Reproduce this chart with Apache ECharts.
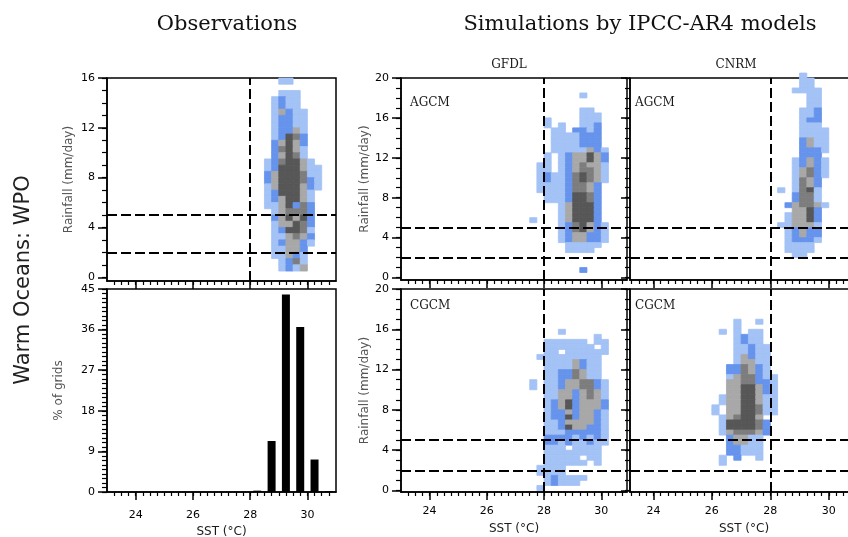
<!DOCTYPE html>
<html>
<head>
<meta charset="utf-8">
<script src="https://cdn.jsdelivr.net/npm/echarts@6/dist/echarts.min.js"></script>
<style>
html, body { margin: 0; padding: 0; background: #fff; }
#main { width: 848px; height: 537px; }
</style>
</head>
<body>
<div id="main"></div>
<script>
/* bin sizes of the 2D histograms */
var sstBin = 0.25, rainBin = 0.5;
// colour levels: 1 light blue .. 5 dark grey
var levelColors = ['', '#a3c2f5', '#6693ec', '#a8a8a8', '#7d7d7d', '#575757'];

// tick labels
var sstMajor = [24, 26, 28, 30];
var rainMajorObs = [0, 4, 8, 12, 16];
var rainMajorModel = [0, 4, 8, 12, 16, 20];
var pctMajor = [0, 9, 18, 27, 36, 45];

// thresholds (dashed lines)
var rainLines = [5, 2];
var sstLine = 28;

// observed % of grids per SST bin
var histSst = [28.25, 28.75, 29.25, 29.75, 30.25, 30.75];
var histPct = [0.3, 11.3, 43.8, 36.6, 7.2, 0.2];

// observations: columns from 28.5 C, rows from 15.5 mm/day downward
var obsSst0 = 28.5, obsRainTop = 15.5;
var obsRows = [
  '..11....', '........', '..111...', '.1211...', '.1211...', '.13211..',
  '.12211..', '.12211..', '.12231..', '.12542..', '.23532..', '.24531..',
  '.23541..', '1245531.', '12555311', '23555411', '23555421', '13555321',
  '1255531.', '1235531.', '1135242.', '.134442.', '.235352.', '.133542.',
  '.125541.', '.113432.', '.123321.', '.11332..', '.11321..', '..1241..',
  '..1213..'
];

// GFDL AGCM: columns from 27.5 C, rows from 18 mm/day
var gfdlASst0 = 27.5, gfdlARainTop = 18;
var gfdlARows = [
  '.......1....', '............', '............', '.......11...', '.......111..',
  '..1....111..', '..1.1..112..', '...11.2212..', '...1111222..', '...1111222..',
  '...1111222..', '...11111321.', '..1.1233532.', '..1.1233532.', '.11.1234331.',
  '.11.1234431.', '.1211245431.', '.1211245431.', '.111124432..', '.111124432..',
  '..11125542..', '..11125542..', '....135552..', '....135552..', '....135552..',
  '1...135552..', '....1245321.', '....1245321.', '....1233221.', '....1233221.',
  '.....11111..', '.....1111...', '............', '............', '............',
  '.......2....'
];

// CNRM AGCM: columns from 28.25 C, rows from 20 mm/day
var cnrmASst0 = 28.25, cnrmARainTop = 20;
var cnrmARows = [
  '...1...', '...11..', '...11..', '..1111.', '....11.', '....11.', '....11.',
  '...112.', '...112.', '...122.', '...111.', '...1111', '...1111', '...2311',
  '...2311', '...2221', '...222.', '..12321', '..12321', '..13421', '..13421',
  '..1432.', '..1432.', '1.1451.', '..2441.', '..2441.', '.234431', '..3352.',
  '.13352.', '.13352.', '113331.', '.12322.', '.12322.', '.12221.', '.1111..',
  '.1111..', '..11...'
];

// GFDL CGCM: columns from 27.5 C, rows from 15.5 mm/day
var gfdlCSst0 = 27.5, gfdlCRainTop = 15.5;
var gfdlCRows = [
  '....1.......', '.........1..', '..111111.11.', '..1111111.1.', '..11.111111.',
  '.111111111..', '..11113211..', '..11113211..', '..11224311..', '..11224311..',
  '1.112334421.', '1.112334421.', '..113323431.', '..113323431.', '..123523332.',
  '..123523332.', '..122323321.', '..122523321.', '..112333321.', '..112533221.',
  '..111222221.', '..222212121.', '..221211211.', '..111.1111..', '..11111111..',
  '..11111.11..', '..111111.1..', '.1111.......', '.1111.......', '..121111....',
  '..12111.....', '.1..........'
];

// CNRM CGCM: columns from 26 C, rows from 16.5 mm/day
var cnrmCSst0 = 26, cnrmCRainTop = 16.5;
var cnrmCRows = [
  '...1..1...', '...1......', '.1.1.11...', '...1211...', '...1211...',
  '...11211..', '...11211..', '...13211..', '...13311..', '..224321..',
  '..224321..', '..1344211.', '..3344221.', '..3355321.', '..3355321.',
  '.13355311.', '.13355311.', '1.3355411.', '1.3355411.', '.134553...',
  '.1555542..', '.1555542..', '.1344432..', '..23311...', '..23311...',
  '..22111...', '..22111...', '.1.2..1...', '.1........'
];

(function () {
  var chart = echarts.init(document.getElementById('main'));
  var font = 'DejaVu Sans';

  function steps(a, b, s) {
    var v = [];
    for (var t = a; t <= b + 1e-9; t += s) v.push(+t.toFixed(2));
    return v;
  }
  var sstMinor = steps(23.25, 30.75, 0.25);

  function cells(rows, sst0, rainTop) {
    var out = [];
    rows.forEach(function (row, j) {
      for (var i = 0; i < row.length; i++) {
        var c = row.charAt(i);
        if (c !== '.') out.push([sst0 + i * sstBin, rainTop - j * rainBin, +c]);
      }
    });
    return out;
  }

  function renderCell(params, api) {
    var x = api.value(0), y = api.value(1);
    var a = api.coord([x, y + rainBin]);
    var b = api.coord([x + sstBin, y]);
    var col = levelColors[api.value(2)];
    return {
      type: 'rect',
      shape: { x: a[0], y: a[1], width: b[0] - a[0], height: b[1] - a[1] },
      style: { fill: col, stroke: col, lineWidth: 0.8 }
    };
  }

  //网格 位置
  var gridPos = [
    { left: 107, top: 78, width: 229, height: 203 },   // obs rainfall
    { left: 107, top: 289, width: 229, height: 203 },  // obs histogram
    { left: 401, top: 78, width: 226, height: 202 },   // GFDL AGCM
    { left: 630, top: 78, width: 228, height: 202 },   // CNRM AGCM
    { left: 401, top: 289, width: 226, height: 203 },  // GFDL CGCM
    { left: 630, top: 289, width: 228, height: 203 }   // CNRM CGCM
  ];
  var grids = gridPos.map(function (p) {
    return Object.assign({ show: true, borderColor: '#000', borderWidth: 1.5,
      backgroundColor: 'transparent', containLabel: false, outerBoundsMode: 'none' }, p);
  });

  var labelStyle = { color: '#000', fontSize: 11, fontFamily: font };
  var black = { color: '#000', width: 1.5 };

  function xPair(g, min, max, withLabels, labelMargin, nameGap) {
    var base = { gridIndex: g, type: 'value', min: min, max: max, position: 'bottom',
      splitLine: { show: false } };
    return [
      Object.assign({}, base, {
        axisLine: { show: true, onZero: false, lineStyle: black },
        axisTick: { show: true, inside: false, length: 8, customValues: sstMajor, lineStyle: black },
        axisLabel: Object.assign({ show: withLabels, customValues: sstMajor, margin: labelMargin }, labelStyle),
        name: withLabels ? 'SST (°C)' : '',
        nameLocation: 'middle',
        nameGap: nameGap,
        nameTextStyle: { color: '#1a1a1a', fontSize: 12, fontFamily: font }
      }),
      Object.assign({}, base, {
        axisLine: { show: false, onZero: false },
        axisTick: { show: true, inside: false, length: 4, customValues: sstMinor, lineStyle: { color: '#000', width: 1.2 } },
        axisLabel: { show: false }
      })
    ];
  }

  function yPair(g, min, max, major, minorStep, withLabels, name, nameGap) {
    var base = { gridIndex: g, type: 'value', min: min, max: max, position: 'left',
      splitLine: { show: false } };
    return [
      Object.assign({}, base, {
        axisLine: { show: true, onZero: false, lineStyle: black },
        axisTick: { show: true, inside: false, length: 9, customValues: major, lineStyle: black },
        axisLabel: Object.assign({ show: withLabels, customValues: major, margin: 12 }, labelStyle),
        name: name,
        nameLocation: 'middle',
        nameRotate: 90,
        nameGap: nameGap,
        nameTextStyle: { color: '#555', fontSize: 12, fontFamily: font }
      }),
      Object.assign({}, base, {
        axisLine: { show: false, onZero: false },
        axisTick: { show: true, inside: false, length: 5, customValues: steps(0, major[major.length - 1], minorStep), lineStyle: { color: '#000', width: 1.2 } },
        axisLabel: { show: false }
      })
    ];
  }

  var xAxes = [].concat(
    xPair(0, 23, 31, false, 14, 30),
    xPair(1, 23, 31, true, 18, 34),
    xPair(2, 23, 30.9, false, 14, 30),
    xPair(3, 23.2, 31, false, 14, 30),
    xPair(4, 23, 30.9, true, 14, 31),
    xPair(5, 23.2, 31, true, 14, 31)
  );
  var yAxes = [].concat(
    yPair(0, -0.3, 16, rainMajorObs, 1, true, 'Rainfall (mm/day)', 32),
    yPair(1, 0, 45, pctMajor, 1, true, '% of grids', 42),
    yPair(2, -0.25, 20, rainMajorModel, 1, true, 'Rainfall (mm/day)', 23),
    yPair(3, -0.25, 20, rainMajorModel, 1, false, '', 0),
    yPair(4, -0.15, 20, rainMajorModel, 1, true, 'Rainfall (mm/day)', 23),
    yPair(5, -0.15, 20, rainMajorModel, 1, false, '', 0)
  );

  function cellSeries(g, rows, sst0, rainTop) {
    return {
      type: 'custom', xAxisIndex: 2 * g, yAxisIndex: 2 * g,
      renderItem: renderCell, encode: { x: 0, y: 1 },
      data: cells(rows, sst0, rainTop), z: 2
    };
  }

  function threshold(g) {
    var lines = rainLines.map(function (r) { return { yAxis: r }; });
    lines.push({ xAxis: sstLine });
    return {
      type: 'line', xAxisIndex: 2 * g, yAxisIndex: 2 * g, data: [], z: 5,
      markLine: {
        silent: true, symbol: ['none', 'none'], label: { show: false },
        lineStyle: { color: '#000', width: 2, type: [10, 4] },
        data: lines
      }
    };
  }

  function label(text, x, y, align) {
    return {
      type: 'text', x: x, y: y,
      style: { text: text, fill: '#1a1a1a', font: '12px "DejaVu Serif"', align: align, verticalAlign: 'middle' }
    };
  }

  var option = {
    animation: false,
    backgroundColor: '#fff',
    textStyle: { fontFamily: font },
    grid: grids,
    xAxis: xAxes,
    yAxis: yAxes,
    series: [
      cellSeries(0, obsRows, obsSst0, obsRainTop),
      cellSeries(2, gfdlARows, gfdlASst0, gfdlARainTop),
      cellSeries(3, cnrmARows, cnrmASst0, cnrmARainTop),
      cellSeries(4, gfdlCRows, gfdlCSst0, gfdlCRainTop),
      cellSeries(5, cnrmCRows, cnrmCSst0, cnrmCRainTop),
      {
        type: 'bar', xAxisIndex: 2, yAxisIndex: 2, barWidth: 8,
        itemStyle: { color: '#000' },
        data: histSst.map(function (s, i) { return [s, histPct[i]]; })
      },
      threshold(0), threshold(2), threshold(3), threshold(4), threshold(5)
    ],
    graphic: [
      { type: 'text', x: 227, y: 25, style: { text: 'Observations', fill: '#111', font: '21px "DejaVu Serif"', align: 'center', verticalAlign: 'middle' } },
      { type: 'text', x: 640, y: 25, style: { text: 'Simulations by IPCC-AR4 models', fill: '#111', font: '21px "DejaVu Serif"', align: 'center', verticalAlign: 'middle' } },
      { type: 'text', x: 24, y: 280, rotation: Math.PI / 2, style: { text: 'Warm Oceans: WPO', fill: '#222', font: '21px "DejaVu Sans"', align: 'center', verticalAlign: 'middle' } },
      label('GFDL', 509, 65, 'center'),
      label('CNRM', 736, 65, 'center'),
      label('AGCM', 410, 103, 'left'),
      label('AGCM', 635, 103, 'left'),
      label('CGCM', 410, 306, 'left'),
      label('CGCM', 635, 306, 'left')
    ]
  };
  chart.setOption(option);
})();
</script>
</body>
</html>
